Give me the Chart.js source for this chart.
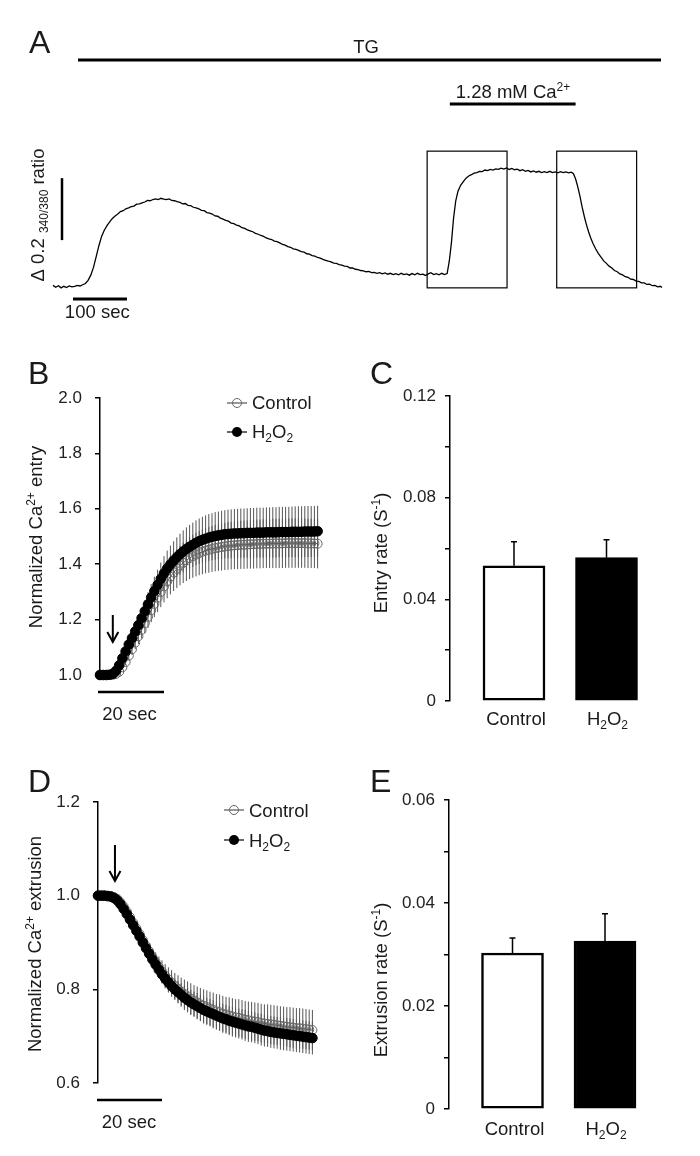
<!DOCTYPE html>
<html>
<head>
<meta charset="utf-8">
<script src="https://cdn.jsdelivr.net/npm/chart.js@4.4.0/dist/chart.umd.min.js"></script>
<style>
  html, body { margin: 0; padding: 0; background: #fff; }
  #fig { position: relative; width: 700px; height: 1156px; overflow: hidden; background: #fff; }
  #fig canvas { position: absolute; }
</style>
</head>
<body>
<div id="fig">
  <canvas id="cA" width="700" height="340" style="left:0;top:0"></canvas>
  <canvas id="cB" width="350" height="420" style="left:0;top:340px"></canvas>
  <canvas id="cC" width="350" height="420" style="left:350px;top:340px"></canvas>
  <canvas id="cD" width="350" height="396" style="left:0;top:760px"></canvas>
  <canvas id="cE" width="350" height="396" style="left:350px;top:760px"></canvas>
</div>
<script>
// ---- panel A : raw fura-2 trace (time in s, delta ratio 340/380)
const traceTime = [
  0, 5, 10, 15, 20, 25, 30, 35, 40, 45,
  50, 55, 60, 65, 70, 75, 80, 85, 90, 95,
  100, 105, 110, 115, 120, 125, 130, 135, 140, 145,
  150, 155, 160, 165, 170, 175, 180, 185, 190, 195,
  200, 205, 210, 215, 220, 225, 230, 235, 240, 245,
  250, 255, 260, 265, 270, 275, 280, 285, 290, 295,
  300, 305, 310, 315, 320, 325, 330, 335, 340, 345,
  350, 355, 360, 365, 370, 375, 380, 385, 390, 395,
  400, 405, 410, 415, 420, 425, 430, 435, 440, 445,
  450, 455, 460, 465, 470, 475, 480, 485, 490, 495,
  500, 505, 510, 515, 520, 525, 530, 535, 540, 545,
  550, 555, 560, 565, 570, 575, 580, 585, 590, 595,
  600, 605, 610, 615, 620, 625, 630, 635, 640, 645,
  650, 655, 660, 665, 670, 675, 680, 685, 690, 695,
  700, 705, 710, 715, 720, 725, 730, 734, 738, 742,
  746, 750, 755, 760, 765, 770, 775, 780, 785, 790,
  795, 800, 805, 810, 815, 820, 825, 830, 835, 840,
  845, 850, 855, 860, 865, 870, 875, 880, 885, 890,
  895, 900, 905, 910, 915, 920, 925, 930, 935, 940,
  945, 950, 955, 960, 964, 968, 972, 976, 980, 984,
  988, 992, 996, 1000, 1005, 1010, 1015, 1020, 1025, 1030,
  1035, 1040, 1045, 1050, 1055, 1060, 1065, 1070, 1075, 1080,
  1085, 1090, 1095, 1100, 1105, 1110, 1115, 1120, 1125, 1128
];
const traceRatio = [
  0.002, -0.004, 0.001, -0.006, -0.001, -0.005, 0.000, -0.003, -0.001, 0.002,
  0.000, 0.004, 0.008, 0.018, 0.035, 0.06, 0.095, 0.13, 0.16, 0.18,
  0.195, 0.207, 0.218, 0.226, 0.232, 0.24, 0.243, 0.249, 0.252, 0.256,
  0.258, 0.264, 0.265, 0.268, 0.271, 0.276, 0.275, 0.279, 0.281, 0.279,
  0.283, 0.28, 0.279, 0.281, 0.276, 0.275, 0.272, 0.27, 0.265, 0.266,
  0.26, 0.259, 0.254, 0.252, 0.249, 0.244, 0.243, 0.237, 0.235, 0.232,
  0.226, 0.225, 0.219, 0.216, 0.212, 0.209, 0.203, 0.201, 0.196, 0.194,
  0.188, 0.186, 0.181, 0.178, 0.175, 0.17, 0.167, 0.163, 0.16, 0.155,
  0.152, 0.15, 0.145, 0.143, 0.139, 0.134, 0.132, 0.127, 0.125, 0.12,
  0.118, 0.115, 0.111, 0.109, 0.104, 0.103, 0.098, 0.096, 0.092, 0.09,
  0.086, 0.083, 0.08, 0.078, 0.074, 0.073, 0.069, 0.067, 0.064, 0.063,
  0.058, 0.058, 0.054, 0.053, 0.05, 0.049, 0.046, 0.047, 0.043, 0.044,
  0.041, 0.043, 0.039, 0.042, 0.038, 0.041, 0.037, 0.04, 0.036, 0.041,
  0.037, 0.039, 0.035, 0.04, 0.036, 0.041, 0.037, 0.038, 0.034, 0.039,
  0.043, 0.037, 0.04, 0.036, 0.041, 0.037, 0.04, 0.08, 0.14, 0.22,
  0.275, 0.305, 0.325, 0.337, 0.348, 0.355, 0.359, 0.364, 0.366, 0.37,
  0.369, 0.374, 0.372, 0.376, 0.374, 0.378, 0.376, 0.38, 0.377, 0.381,
  0.376, 0.379, 0.375, 0.377, 0.372, 0.375, 0.37, 0.373, 0.368, 0.371,
  0.367, 0.37, 0.366, 0.369, 0.366, 0.37, 0.366, 0.368, 0.365, 0.369,
  0.366, 0.368, 0.365, 0.367, 0.362, 0.345, 0.32, 0.29, 0.255, 0.225,
  0.198, 0.175, 0.155, 0.138, 0.12, 0.105, 0.093, 0.081, 0.073, 0.064,
  0.058, 0.05, 0.046, 0.039, 0.036, 0.03, 0.028, 0.022, 0.021, 0.016,
  0.015, 0.01, 0.01, 0.005, 0.006, 0.001, 0.002, -0.003, -0.001, -0.005
];

// ---- panel B : normalized Ca2+ entry (1 s sampling)
const entryTime = [
  0, 1, 2, 3, 4, 5, 6, 7, 8, 9,
  10, 11, 12, 13, 14, 15, 16, 17, 18, 19,
  20, 21, 22, 23, 24, 25, 26, 27, 28, 29,
  30, 31, 32, 33, 34, 35, 36, 37, 38, 39,
  40, 41, 42, 43, 44, 45, 46, 47, 48, 49,
  50, 51, 52, 53, 54, 55, 56, 57, 58, 59,
  60, 61, 62, 63, 64, 65, 66, 67, 68
];
const entryControl = [
  1.000, 1.000, 1.000, 1.000, 1.001, 1.004, 1.012, 1.028, 1.047, 1.07,
  1.093, 1.117, 1.14, 1.163, 1.187, 1.21, 1.234, 1.257, 1.279, 1.3,
  1.32, 1.338, 1.355, 1.37, 1.383, 1.395, 1.405, 1.414, 1.422, 1.429,
  1.435, 1.44, 1.445, 1.449, 1.452, 1.455, 1.458, 1.46, 1.462, 1.464,
  1.466, 1.467, 1.468, 1.469, 1.47, 1.47, 1.471, 1.472, 1.472, 1.473,
  1.473, 1.474, 1.474, 1.474, 1.475, 1.475, 1.475, 1.475, 1.476, 1.476,
  1.476, 1.476, 1.476, 1.476, 1.476, 1.475, 1.475, 1.475, 1.474
];
const entryControlSem = [
  0, 0, 0.001, 0.002, 0.003, 0.004, 0.006, 0.009, 0.012, 0.016,
  0.02, 0.024, 0.028, 0.032, 0.036, 0.04, 0.044, 0.048, 0.052, 0.055,
  0.058, 0.061, 0.064, 0.067, 0.069, 0.071, 0.073, 0.075, 0.076, 0.078,
  0.079, 0.08, 0.081, 0.082, 0.083, 0.083, 0.084, 0.084, 0.085, 0.085,
  0.086, 0.086, 0.086, 0.087, 0.087, 0.087, 0.087, 0.088, 0.088, 0.088,
  0.088, 0.088, 0.088, 0.088, 0.089, 0.089, 0.089, 0.089, 0.089, 0.089,
  0.089, 0.089, 0.089, 0.089, 0.089, 0.089, 0.089, 0.089, 0.089
];
const entryH2O2 = [
  1.000, 1.000, 1.000, 1.001, 1.004, 1.015, 1.035, 1.06, 1.085, 1.11,
  1.133, 1.157, 1.18, 1.205, 1.23, 1.255, 1.28, 1.303, 1.325, 1.347,
  1.367, 1.384, 1.399, 1.413, 1.425, 1.436, 1.446, 1.455, 1.463, 1.47,
  1.477, 1.483, 1.488, 1.492, 1.496, 1.499, 1.502, 1.504, 1.506, 1.508,
  1.509, 1.51, 1.511, 1.511, 1.512, 1.512, 1.513, 1.513, 1.513, 1.514,
  1.514, 1.514, 1.515, 1.515, 1.515, 1.515, 1.516, 1.516, 1.516, 1.516,
  1.517, 1.517, 1.517, 1.517, 1.518, 1.518, 1.518, 1.518, 1.519
];
const entryH2O2Sem = [
  0, 0.001, 0.002, 0.003, 0.005, 0.006, 0.009, 0.012, 0.016, 0.02,
  0.023, 0.027, 0.031, 0.035, 0.04, 0.044, 0.048, 0.052, 0.055, 0.059,
  0.062, 0.065, 0.068, 0.07, 0.072, 0.074, 0.076, 0.078, 0.079, 0.08,
  0.081, 0.082, 0.083, 0.084, 0.085, 0.085, 0.086, 0.086, 0.087, 0.087,
  0.088, 0.088, 0.088, 0.089, 0.089, 0.089, 0.089, 0.09, 0.09, 0.09,
  0.09, 0.09, 0.09, 0.09, 0.091, 0.091, 0.091, 0.091, 0.091, 0.091,
  0.091, 0.092, 0.092, 0.092, 0.092, 0.092, 0.092, 0.092, 0.092
];

// ---- panel D : normalized Ca2+ extrusion (1 s sampling)
const extrusionTime = [
  0, 1, 2, 3, 4, 5, 6, 7, 8, 9,
  10, 11, 12, 13, 14, 15, 16, 17, 18, 19,
  20, 21, 22, 23, 24, 25, 26, 27, 28, 29,
  30, 31, 32, 33, 34, 35, 36, 37, 38, 39,
  40, 41, 42, 43, 44, 45, 46, 47, 48, 49,
  50, 51, 52, 53, 54, 55, 56, 57, 58, 59,
  60, 61, 62, 63, 64, 65, 66, 67
];
const extrusionControl = [
  1.0, 1.0, 1.0, 1.0, 0.999, 0.997, 0.993, 0.986, 0.977, 0.966,
  0.954, 0.942, 0.93, 0.918, 0.905, 0.893, 0.881, 0.869, 0.858, 0.848,
  0.838, 0.829, 0.821, 0.814, 0.807, 0.801, 0.795, 0.79, 0.785, 0.78,
  0.776, 0.772, 0.768, 0.765, 0.762, 0.759, 0.756, 0.753, 0.751, 0.748,
  0.746, 0.744, 0.742, 0.74, 0.739, 0.737, 0.735, 0.734, 0.732, 0.731,
  0.73, 0.728, 0.727, 0.726, 0.725, 0.724, 0.723, 0.722, 0.721, 0.72,
  0.719, 0.718, 0.717, 0.717, 0.716, 0.715, 0.714, 0.713
];
const extrusionControlSem = [
  0, 0, 0, 0, 0, 0.001, 0.001, 0.002, 0.004, 0.005,
  0.007, 0.009, 0.01, 0.012, 0.014, 0.016, 0.017, 0.019, 0.021, 0.022,
  0.024, 0.025, 0.026, 0.027, 0.028, 0.029, 0.03, 0.031, 0.032, 0.033,
  0.033, 0.034, 0.035, 0.035, 0.036, 0.036, 0.037, 0.037, 0.038, 0.038,
  0.038, 0.039, 0.039, 0.039, 0.04, 0.04, 0.04, 0.04, 0.041, 0.041,
  0.041, 0.041, 0.041, 0.042, 0.042, 0.042, 0.042, 0.042, 0.042, 0.042,
  0.043, 0.043, 0.043, 0.043, 0.043, 0.043, 0.043, 0.043
];
const extrusionH2O2 = [
  1.0, 1.0, 1.0, 0.999, 0.998, 0.995, 0.99, 0.982, 0.972, 0.961,
  0.949, 0.937, 0.925, 0.913, 0.9, 0.888, 0.876, 0.864, 0.853, 0.842,
  0.832, 0.823, 0.815, 0.807, 0.8, 0.794, 0.788, 0.782, 0.777, 0.772,
  0.768, 0.764, 0.76, 0.756, 0.753, 0.75, 0.747, 0.744, 0.741, 0.738,
  0.736, 0.733, 0.731, 0.729, 0.727, 0.725, 0.723, 0.721, 0.72, 0.718,
  0.716, 0.714, 0.712, 0.711, 0.709, 0.708, 0.707, 0.706, 0.705, 0.704,
  0.703, 0.702, 0.701, 0.7, 0.699, 0.698, 0.697, 0.696
];
const extrusionH2O2Sem = [
  0, 0, 0, 0, 0, 0.001, 0.001, 0.002, 0.003, 0.005,
  0.006, 0.007, 0.009, 0.01, 0.012, 0.013, 0.015, 0.016, 0.017, 0.018,
  0.02, 0.021, 0.022, 0.023, 0.023, 0.024, 0.025, 0.026, 0.026, 0.027,
  0.027, 0.028, 0.028, 0.029, 0.029, 0.029, 0.03, 0.03, 0.03, 0.031,
  0.031, 0.031, 0.032, 0.032, 0.032, 0.032, 0.033, 0.033, 0.033, 0.033,
  0.033, 0.034, 0.034, 0.034, 0.034, 0.034, 0.034, 0.035, 0.035, 0.035,
  0.035, 0.035, 0.035, 0.035, 0.035, 0.035, 0.035, 0.035
];

// ---- panels C and E : rates (s-1), mean and SEM
const groups = ['Control', 'H2O2'];
const entryRate = [0.0532, 0.0564];
const entryRateSem = [0.0095, 0.007];
const extrusionRate = [0.0303, 0.0326];
const extrusionRateSem = [0.0029, 0.0053];

const FONT = "'Liberation Sans', Arial, Helvetica, sans-serif";
Chart.defaults.font.family = FONT;
Chart.defaults.color = '#222';

// text with sub/superscripts: parts = [text, size, dy]
function rich(ctx, parts, x, y, align, rot) {
  ctx.save();
  ctx.translate(x, y);
  if (rot) ctx.rotate(-Math.PI / 2);
  ctx.textAlign = 'left';
  ctx.textBaseline = 'alphabetic';
  ctx.fillStyle = '#1a1a1a';
  let w = 0;
  parts.forEach(p => { ctx.font = p[1] + 'px ' + FONT; w += ctx.measureText(p[0]).width; });
  let cx = align === 'center' ? -w / 2 : (align === 'right' ? -w : 0);
  parts.forEach(p => {
    ctx.font = p[1] + 'px ' + FONT;
    ctx.fillText(p[0], cx, p[2] || 0);
    cx += ctx.measureText(p[0]).width;
  });
  ctx.restore();
}

function seg(ctx, x1, y1, x2, y2, w, c) {
  ctx.save();
  ctx.strokeStyle = c || '#000';
  ctx.lineWidth = w;
  ctx.beginPath();
  ctx.moveTo(x1, y1);
  ctx.lineTo(x2, y2);
  ctx.stroke();
  ctx.restore();
}

function arrowDown(ctx, x, y1, y2) {
  seg(ctx, x, y1, x, y2, 2);
  ctx.save();
  ctx.strokeStyle = '#000';
  ctx.lineWidth = 2;
  ctx.beginPath();
  ctx.moveTo(x - 5.5, y2 - 10);
  ctx.lineTo(x, y2);
  ctx.lineTo(x + 5.5, y2 - 10);
  ctx.stroke();
  ctx.restore();
}

function legendRow(ctx, x, y, filled, parts, base) {
  seg(ctx, x - 10, y, x + 10, y, 1.2, filled ? '#000' : '#555');
  ctx.save();
  ctx.beginPath();
  ctx.arc(x, y, filled ? 5 : 4.5, 0, Math.PI * 2);
  if (filled) { ctx.fillStyle = '#000'; ctx.fill(); }
  else { ctx.strokeStyle = '#666'; ctx.lineWidth = 1; ctx.stroke(); }
  ctx.restore();
  rich(ctx, parts, x + 15, base, 'left');
}

const H2O2_TXT = [['H', 18.5], ['2', 12, 4], ['O', 18.5], ['2', 12, 4]];
const CTRL_TXT = [['Control', 18.5]];

function yAxis(min, max, step, fmt, width, pad) {
  return {
    min: min, max: max,
    ticks: { stepSize: step, callback: fmt, font: { size: 17 }, color: '#222', padding: pad },
    grid: { drawOnChartArea: false, tickLength: 5, color: '#000', lineWidth: 1.5 },
    border: { color: '#000', width: 1.5 },
    afterFit: s => { s.width = width; }
  };
}

// SEM bars of the time courses, drawn under the markers
const errBars = {
  id: 'errBars',
  beforeDatasetsDraw(chart) {
    const { ctx, scales: { y } } = chart;
    ctx.save();
    ctx.strokeStyle = '#555';
    ctx.lineWidth = 1;
    chart.data.datasets.forEach((ds, di) => {
      const meta = chart.getDatasetMeta(di);
      meta.data.forEach((pt, i) => {
        ctx.beginPath();
        ctx.moveTo(pt.x, y.getPixelForValue(ds.data[i] - ds.err[i]));
        ctx.lineTo(pt.x, y.getPixelForValue(ds.data[i] + ds.err[i]));
        ctx.stroke();
      });
    });
    ctx.restore();
  }
};

// upward SEM bars on the bar charts
const barErr = {
  id: 'barErr',
  afterDatasetsDraw(chart) {
    const { ctx, scales: { y } } = chart;
    const ds = chart.data.datasets[0];
    ctx.save();
    ctx.strokeStyle = '#000';
    ctx.lineWidth = 1.5;
    chart.getDatasetMeta(0).data.forEach((bar, i) => {
      const top = y.getPixelForValue(ds.data[i].y + ds.err[i]);
      ctx.beginPath();
      ctx.moveTo(bar.x, bar.y);
      ctx.lineTo(bar.x, top);
      ctx.moveTo(bar.x - 3, top);
      ctx.lineTo(bar.x + 3, top);
      ctx.stroke();
    });
    ctx.restore();
  }
};

function lineDatasets(ctrl, ctrlSem, h2o2, h2o2Sem) {
  return [
    { label: 'H2O2', data: h2o2, err: h2o2Sem, order: 0, borderColor: '#000', borderWidth: 3,
      pointRadius: 4.8, pointBackgroundColor: '#000', pointBorderColor: '#000', pointBorderWidth: 1,
      tension: 0, clip: false },
    { label: 'Control', data: ctrl, err: ctrlSem, order: 1, borderColor: '#555', borderWidth: 1,
      pointRadius: 4.5, pointBackgroundColor: 'rgba(255,255,255,0)', pointBorderColor: '#666',
      pointBorderWidth: 1, tension: 0, clip: false }
  ];
}

function barDataset(vals, sems) {
  return [{
    data: vals.map((v, i) => ({ x: i + 1, y: v })), err: sems,
    backgroundColor: ['#fff', '#000'], borderColor: '#000', borderWidth: 2.5,
    borderSkipped: false, barThickness: 62
  }];
}

const base = {
  responsive: false, animation: false, events: [], devicePixelRatio: 1,
  plugins: { legend: { display: false }, tooltip: { enabled: false } }
};

// ---------------- A
const panelA = {
  id: 'panelA',
  afterDraw(chart) {
    const { ctx, scales: { x, y } } = chart;
    rich(ctx, [['A', 32]], 29, 53, 'left');
    seg(ctx, 78, 60, 661, 60, 3);
    rich(ctx, [['TG', 18.5]], 366, 53, 'center');
    // calcium re-addition bar
    seg(ctx, x.getPixelForValue(735), 104, x.getPixelForValue(968), 104, 3);
    rich(ctx, [['1.28 mM Ca', 18.5], ['2+', 12, -7]], x.getPixelForValue(852), 98, 'center');
    // boxes around entry and extrusion phases
    ctx.save();
    ctx.strokeStyle = '#000';
    ctx.lineWidth = 1.2;
    [[693, 841], [933, 1081]].forEach(b => {
      const x1 = x.getPixelForValue(b[0]), x2 = x.getPixelForValue(b[1]);
      const y1 = y.getPixelForValue(0.435), y2 = y.getPixelForValue(-0.006);
      ctx.strokeRect(x1, y1, x2 - x1, y2 - y1);
    });
    ctx.restore();
    // scale bars
    seg(ctx, x.getPixelForValue(37), 299, x.getPixelForValue(137), 299, 3);
    rich(ctx, [['100 sec', 18.5]], x.getPixelForValue(82), 318, 'center');
    seg(ctx, 62, y.getPixelForValue(0.348), 62, y.getPixelForValue(0.148), 2.5);
    rich(ctx, [['\u0394 0.2 ', 18.5], ['340/380', 12, 4], [' ratio', 18.5]], 44, 215, 'center', true);
  }
};

new Chart(document.getElementById('cA'), {
  type: 'line',
  data: { labels: traceTime, datasets: [{ data: traceRatio, borderColor: '#000', borderWidth: 1.3,
    pointRadius: 0, tension: 0, clip: false }] },
  options: Object.assign({}, base, {
    layout: { padding: { left: 53, right: 38, top: 38, bottom: 16.8 } },
    scales: {
      x: { type: 'linear', display: false, min: 0, max: 1128 },
      y: { display: false, min: -0.12, max: 0.8 }
    }
  }),
  plugins: [panelA]
});

// ---------------- B
const panelB = {
  id: 'panelB',
  afterDraw(chart) {
    const { ctx, scales: { x } } = chart;
    rich(ctx, [['B', 32]], 28, 44, 'left');
    rich(ctx, [['Normalized Ca', 18.5], ['2+', 12, -7], [' entry', 18.5]], 42, 197, 'center', true);
    legendRow(ctx, 237, 63, false, CTRL_TXT, 69);
    legendRow(ctx, 237, 92, true, H2O2_TXT, 98);
    arrowDown(ctx, x.getPixelForValue(4), 275, 302);
    seg(ctx, x.getPixelForValue(0) - 2, 352, x.getPixelForValue(20), 352, 2.5);
    rich(ctx, [['20 sec', 18.5]], x.getPixelForValue(9.2), 380, 'center');
  }
};

new Chart(document.getElementById('cB'), {
  type: 'line',
  data: { labels: entryTime, datasets: lineDatasets(entryControl, entryControlSem, entryH2O2, entryH2O2Sem) },
  options: Object.assign({}, base, {
    layout: { padding: { left: 0, right: 32.4, top: 58, bottom: 85 } },
    scales: {
      x: { type: 'linear', display: false, min: 0, max: 68 },
      y: yAxis(1, 2, 0.2, v => v.toFixed(1), 100, 13)
    }
  }),
  plugins: [errBars, panelB]
});

// ---------------- C
const panelC = {
  id: 'panelC',
  afterDraw(chart) {
    const { ctx, scales: { x } } = chart;
    rich(ctx, [['C', 32]], 20, 44, 'left');
    rich(ctx, [['Entry rate (S', 18.5], ['-1', 12, -7], [')', 18.5]], 37, 213, 'center', true);
    rich(ctx, CTRL_TXT, x.getPixelForValue(1) + 2, 385, 'center');
    rich(ctx, H2O2_TXT, x.getPixelForValue(2) + 1, 385, 'center');
  }
};

new Chart(document.getElementById('cC'), {
  type: 'bar',
  data: { labels: groups, datasets: barDataset(entryRate, entryRateSem) },
  options: Object.assign({}, base, {
    layout: { padding: { left: 0, right: 30, top: 56, bottom: 59 } },
    scales: {
      x: { type: 'linear', display: false, offset: false, min: 0.3081, max: 2.6865 },
      y: yAxis(0, 0.12, 0.02, v => {
        const k = Math.round(v * 100);
        return k % 4 === 0 ? (k === 0 ? '0' : (k / 100).toFixed(2)) : '';
      }, 100, 9)
    }
  }),
  plugins: [barErr, panelC]
});

// ---------------- D
const panelD = {
  id: 'panelD',
  afterDraw(chart) {
    const { ctx, scales: { x } } = chart;
    rich(ctx, [['D', 32]], 28, 32, 'left');
    rich(ctx, [['Normalized Ca', 18.5], ['2+', 12, -7], [' extrusion', 18.5]], 41, 184, 'center', true);
    legendRow(ctx, 234, 50, false, CTRL_TXT, 57);
    legendRow(ctx, 234, 80, true, H2O2_TXT, 87);
    arrowDown(ctx, x.getPixelForValue(5.3), 85, 121);
    seg(ctx, x.getPixelForValue(0) - 1, 340, x.getPixelForValue(20), 340, 2.5);
    rich(ctx, [['20 sec', 18.5]], x.getPixelForValue(9.7), 368, 'center');
  }
};

new Chart(document.getElementById('cD'), {
  type: 'line',
  data: { labels: extrusionTime, datasets: lineDatasets(extrusionControl, extrusionControlSem, extrusionH2O2, extrusionH2O2Sem) },
  options: Object.assign({}, base, {
    layout: { padding: { left: 0, right: 37.6, top: 42, bottom: 73 } },
    scales: {
      x: { type: 'linear', display: false, min: 0, max: 67 },
      y: yAxis(0.6, 1.2, 0.2, v => v.toFixed(1), 98, 13)
    }
  }),
  plugins: [errBars, panelD]
});

// ---------------- E
const panelE = {
  id: 'panelE',
  afterDraw(chart) {
    const { ctx, scales: { x } } = chart;
    rich(ctx, [['E', 32]], 20, 32, 'left');
    rich(ctx, [['Extrusion rate (S', 18.5], ['-1', 12, -7], [')', 18.5]], 37, 220, 'center', true);
    rich(ctx, CTRL_TXT, x.getPixelForValue(1) + 2, 375, 'center');
    rich(ctx, H2O2_TXT, x.getPixelForValue(2) + 1, 375, 'center');
  }
};

new Chart(document.getElementById('cE'), {
  type: 'bar',
  data: { labels: groups, datasets: barDataset(extrusionRate, extrusionRateSem) },
  options: Object.assign({}, base, {
    layout: { padding: { left: 0, right: 30, top: 40, bottom: 47 } },
    scales: {
      x: { type: 'linear', display: false, offset: false, min: 0.3135, max: 2.7027 },
      y: yAxis(0, 0.06, 0.01, v => {
        const k = Math.round(v * 100);
        return k % 2 === 0 ? (k === 0 ? '0' : (k / 100).toFixed(2)) : '';
      }, 99, 9)
    }
  }),
  plugins: [barErr, panelE]
});
</script>
</body>
</html>
